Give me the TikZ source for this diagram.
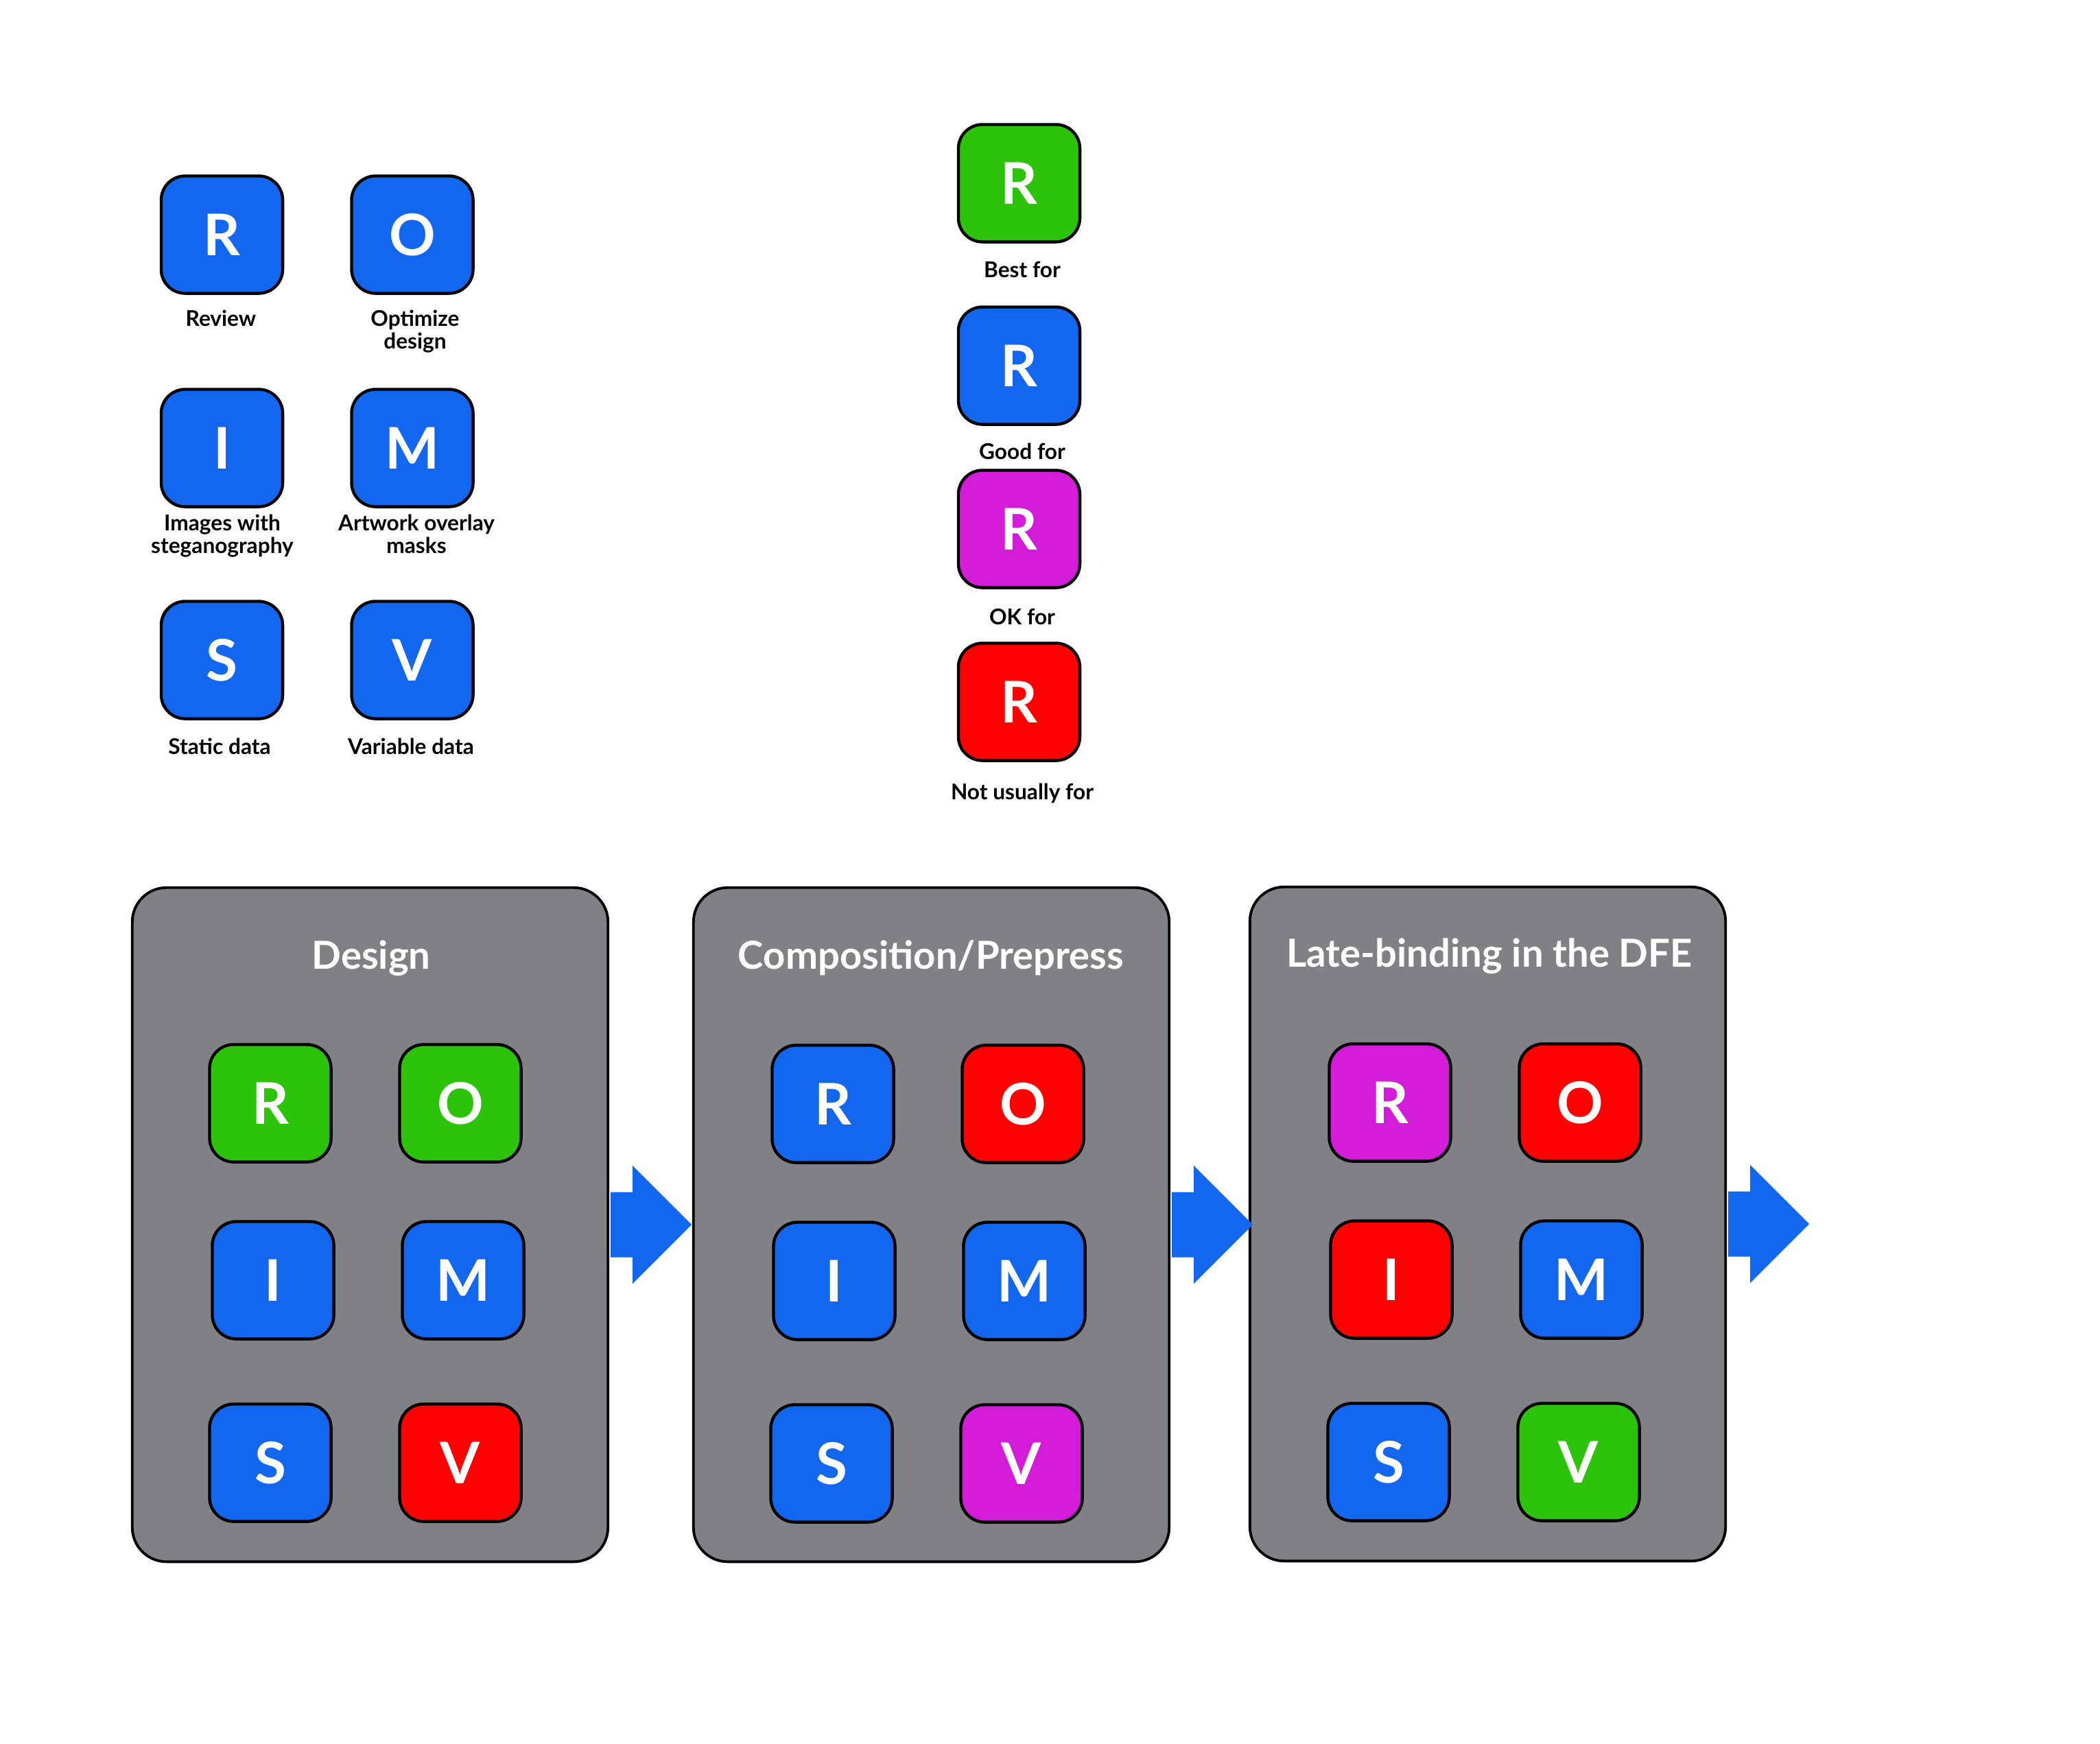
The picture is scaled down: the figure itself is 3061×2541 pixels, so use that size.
\documentclass[tikz,border=0pt]{standalone}
\usepackage{fontspec}
\setmainfont{Lato}
\usetikzlibrary{calc}
\definecolor{cblue}{HTML}{1267EE}
\definecolor{cgreen}{HTML}{2CC30A}
\definecolor{cmag}{HTML}{D21CD8}
\definecolor{cred}{HTML}{FF0000}
\definecolor{cgray}{HTML}{808185}
\begin{document}
\begin{tikzpicture}[x=0.01cm,y=-0.01cm,
  tile/.style={draw=black, line width=1.25pt, rounded corners=0.35cm, minimum width=1.77cm, minimum height=1.71cm, inner sep=0pt, text=white, font=\bfseries\fontsize{23.8}{24}\selectfont},
  lab/.style={anchor=base, inner sep=0pt, font=\bfseries\fontsize{9.0}{9.4}\selectfont},
  panel/.style={draw=black, line width=1.1pt, fill=cgray, rounded corners=0.5cm, minimum width=6.93cm, minimum height=9.82cm, inner sep=0pt},
  ttl/.style={anchor=base, text=white, inner sep=0pt, font=\bfseries\fontsize{16.0}{16}\selectfont},
  flow/.style={fill=cblue}]
\useasboundingbox (0,0) rectangle (3061,2541);
\fill[white] (0,0) rectangle (3061,2541);

% ---------- legend: letters ----------
\node[tile, fill=cblue] (lR) at (323.5,342) {R};
\node[tile, fill=cblue] (lO) at (601,342) {O};
\node[tile, fill=cblue] (lI) at (323.5,653) {I};
\node[tile, fill=cblue] (lM) at (601,653) {M};
\node[tile, fill=cblue] (lS) at (323.5,962) {S};
\node[tile, fill=cblue] (lV) at (601,962) {V};
\node[lab] (tR) at (322,475) {Review};
\node[lab] (tO) at (605,475) {\begin{tabular}[t]{@{}c@{}}Optimize\\design\end{tabular}};
\node[lab] (tI) at (324,773) {\begin{tabular}[t]{@{}c@{}}Images with\\steganography\end{tabular}};
\node[lab] (tM) at (607,773) {\begin{tabular}[t]{@{}c@{}}Artwork overlay\\masks\end{tabular}};
\node[lab] (tS) at (320,1099) {Static data};
\node[lab] (tV) at (599,1099) {Variable data};

% ---------- legend: ratings ----------
\node[tile, fill=cgreen] (kG) at (1485.5,267) {R};
\node[tile, fill=cblue]  (kB) at (1485.5,533) {R};
\node[tile, fill=cmag]   (kM) at (1485.5,771) {R};
\node[tile, fill=cred]   (kR) at (1485.5,1023) {R};
\node[lab] (tG) at (1490,404) {Best for};
\node[lab] (tB) at (1490,669) {Good for};
\node[lab] (tK) at (1490,910) {OK for};
\node[lab] (tN) at (1490,1165) {Not usually for};

% ---------- panels ----------
\node[panel] (p1) at (539.5,1785) {};
\node[panel] (p2) at (1357.5,1785) {};
\node[panel] (p3) at (2168.5,1784) {};

\foreach \p in {p1,p2,p3}{
  \fill[flow] ($(\p.east)+(2,-47.5)$) -- ($(\p.east)+(34,-47.5)$) -- ($(\p.east)+(34,-86)$)
     -- ($(\p.east)+(120,0)$) -- ($(\p.east)+(34,86)$) -- ($(\p.east)+(34,47.5)$)
     -- ($(\p.east)+(2,47.5)$) -- cycle;
}

\node[ttl] (h1) at (541,1412) {Design};
\node[ttl] (h2) at (1357,1412) {Composition/Prepress};
\node[ttl] (h3) at (2171,1409) {Late-binding in the DFE};

% panel 1
\node[tile, fill=cgreen] (aR) at (394,1608) {R};
\node[tile, fill=cgreen] (aO) at (671,1608) {O};
\node[tile, fill=cblue]  (aI) at (398,1866) {I};
\node[tile, fill=cblue]  (aM) at (675,1866) {M};
\node[tile, fill=cblue]  (aS) at (394,2132) {S};
\node[tile, fill=cred]   (aV) at (671,2132) {V};
% panel 2
\node[tile, fill=cblue]  (bR) at (1214,1609) {R};
\node[tile, fill=cred]   (bO) at (1491,1609) {O};
\node[tile, fill=cblue]  (bI) at (1216,1867) {I};
\node[tile, fill=cblue]  (bM) at (1493,1867) {M};
\node[tile, fill=cblue]  (bS) at (1212,2133) {S};
\node[tile, fill=cmag]   (bV) at (1489,2133) {V};
% panel 3
\node[tile, fill=cmag]   (cR) at (2026,1607) {R};
\node[tile, fill=cred]   (cO) at (2303,1607) {O};
\node[tile, fill=cred]   (cI) at (2028,1865) {I};
\node[tile, fill=cblue]  (cM) at (2305,1865) {M};
\node[tile, fill=cblue]  (cS) at (2024,2131) {S};
\node[tile, fill=cgreen] (cV) at (2301,2131) {V};
\end{tikzpicture}
\end{document}
